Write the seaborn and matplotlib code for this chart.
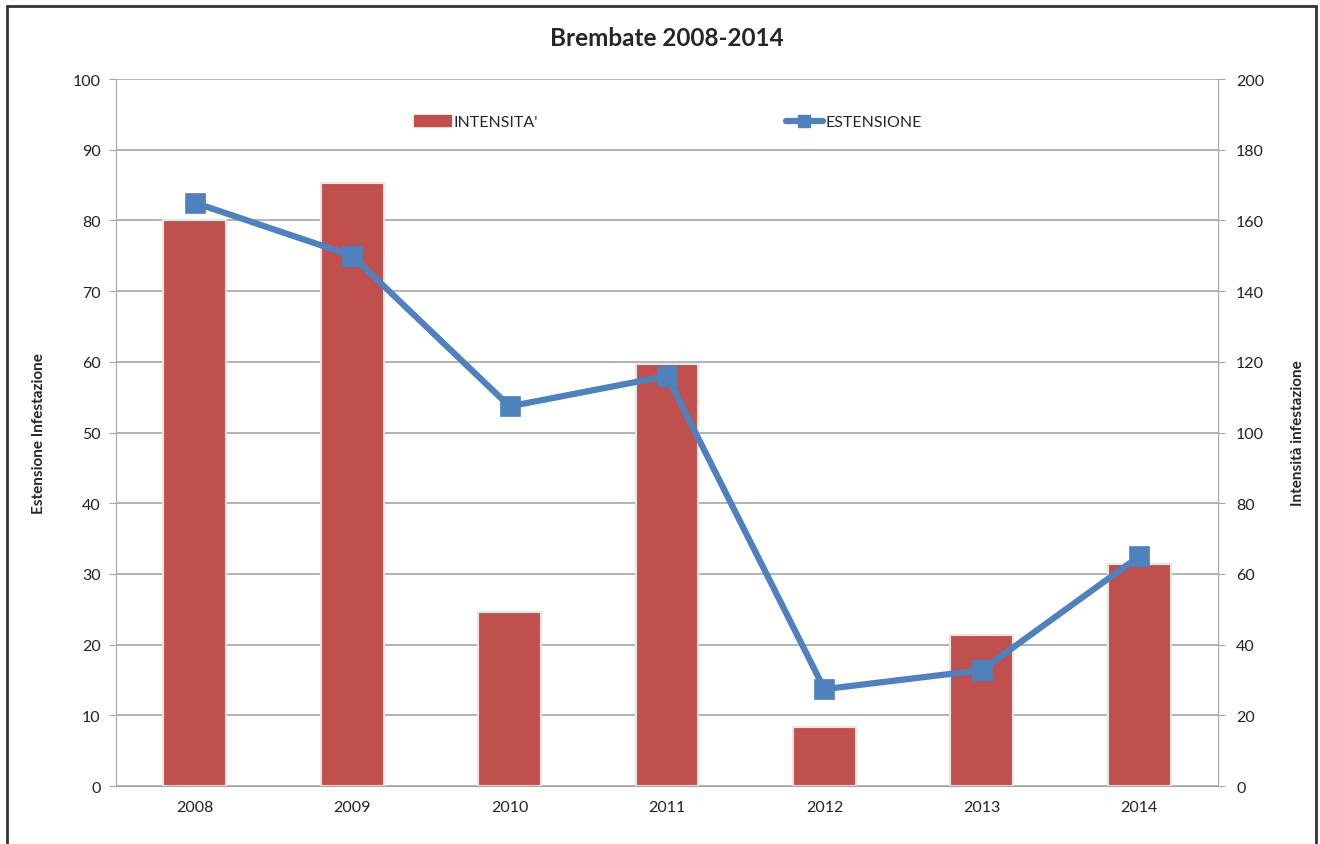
import numpy as np
import pandas as pd
import matplotlib
matplotlib.use("Agg")
import matplotlib.pyplot as plt
import seaborn as sns
from matplotlib.patches import Patch
from matplotlib.lines import Line2D

# dati
anni = ["2008", "2009", "2010", "2011", "2012", "2013", "2014"]
intensita = [160.0, 170.6, 49.2, 119.4, 16.7, 42.8, 62.8]   # asse destro
estensione = [82.5, 75.0, 53.7, 58.0, 13.7, 16.4, 32.5]     # asse sinistro

rosso = "#C0504D"
blu = "#4F81BD"
grigio = "#A6A6A6"

sns.set_style("white")
plt.rcParams['font.family'] = ['Lato', 'DejaVu Sans']

df = pd.DataFrame({"anno": anni, "intensita": intensita, "estensione": estensione})

fig = plt.figure(figsize=(13.2, 8.45), dpi=100)
ax = fig.add_axes([0.0879, 0.0686, 0.8348, 0.8367])
ax2 = ax.twinx()

# barre sull'asse destro (dietro), linea sull'asse sinistro (davanti)
sns.barplot(data=df, x="anno", y="intensita", color=rosso, width=0.4,
            saturation=1, edgecolor="#E6E6E6", linewidth=1.5, ax=ax2)
sns.pointplot(data=df, x="anno", y="estensione", color=blu, markers="s",
              linestyles="-", errorbar=None, markersize=11, linewidth=4.5, ax=ax)

ax.set_zorder(ax2.get_zorder() + 1)
ax.patch.set_visible(False)

ax.set_ylim(0, 100)
ax.set_yticks(np.arange(0, 101, 10))
ax2.set_ylim(0, 200)
ax2.set_yticks(np.arange(0, 201, 20))
ax.set_xlim(-0.5, 6.5)

ax2.yaxis.grid(True, color=grigio, linewidth=1.2)
ax2.set_axisbelow(True)
ax.grid(False)

for a in (ax, ax2):
    for s in a.spines.values():
        s.set_visible(False)
ax.spines["left"].set_visible(True)
ax.spines["left"].set_color(grigio)
ax.spines["bottom"].set_visible(True)
ax.spines["bottom"].set_color(grigio)
ax2.spines["right"].set_visible(True)
ax2.spines["right"].set_color(grigio)

ax.tick_params(axis="y", length=5, color=grigio, labelsize=11.5, labelcolor="#222222", pad=6)
ax2.tick_params(axis="y", length=5, color=grigio, labelsize=11.5, labelcolor="#222222", pad=8)
ax.tick_params(axis="x", which="major", length=0, labelsize=11.5, labelcolor="#222222", pad=10)
ax.set_xticks(np.arange(-0.5, 7, 1), minor=True)
ax.tick_params(axis="x", which="minor", length=10, direction="inout", color=grigio)

ax.set_xlabel("")
ax2.set_xlabel("")
ax.set_ylabel("Estensione Infestazione", fontsize=11, fontweight="bold", labelpad=19)
ax2.set_ylabel("Intensità infestazione", fontsize=11, fontweight="bold", labelpad=19)

fig.suptitle("Brembate 2008-2014", x=0.505, y=0.968, fontsize=17.5, fontweight="bold")

maniglie = [Patch(facecolor=rosso, edgecolor=rosso),
            Line2D([0], [0], color=blu, linewidth=4.5, marker="s", markersize=9)]
fig.legend(maniglie, ["INTENSITA'", "ESTENSIONE"], loc="center", ncol=2,
           bbox_to_anchor=(0.506, 0.854), frameon=False, fontsize=11.5,
           columnspacing=15.5, handlelength=2.3, handletextpad=0.2)

# cornice esterna
fig.add_artist(Line2D([0.005, 0.005], [0.0, 0.992], color="#333333", linewidth=2, transform=fig.transFigure))
fig.add_artist(Line2D([0.005, 0.997], [0.992, 0.992], color="#333333", linewidth=2, transform=fig.transFigure))
fig.add_artist(Line2D([0.997, 0.997], [0.0, 0.992], color="#333333", linewidth=2, transform=fig.transFigure))

fig.savefig("out.png", dpi=100)
